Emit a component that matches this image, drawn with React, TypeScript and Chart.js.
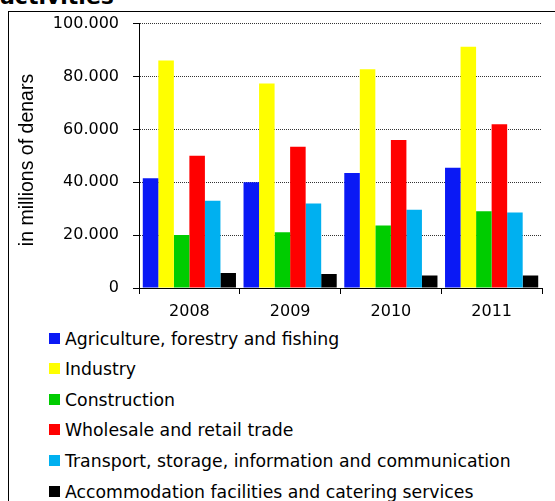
import React, { useEffect, useRef } from "react";
import { Chart, registerables } from "chart.js";

Chart.register(...registerables);

const years = ["2008", "2009", "2010", "2011"];
const seriesNames = [
  "Agriculture, forestry and fishing",
  "Industry",
  "Construction",
  "Wholesale and retail trade",
  "Transport, storage, information and communication",
  "Accommodation facilities and catering services",
];
const agriculture = [41500, 40000, 43500, 45500];
const industry = [86000, 77300, 82700, 91200];
const construction = [20000, 21100, 23600, 29000];
const trade = [50000, 53400, 56000, 61900];
const transport = [33000, 32000, 29600, 28600];
const accommodation = [5700, 5300, 4700, 4700];
const seriesColors = ["#0a19f5", "#ffff00", "#00cc00", "#ff0000", "#00b0f0", "#000000"];
const yTicks = [0, 20000, 40000, 60000, 80000, 100000];
const yTitle = "in millions of denars";
const titleTail = "activities";

const allSeries = [agriculture, industry, construction, trade, transport, accommodation];

const fmt = (v: number) => (v === 0 ? "0" : (v / 1000).toFixed(3));

const yTitlePlugin = {
  id: "yTitlePlugin",
  afterDraw(chart: any) {
    const ctx = chart.ctx;
    ctx.save();
    ctx.translate(27.5, 160);
    ctx.rotate(-Math.PI / 2);
    ctx.font = "19.5px 'Liberation Sans'";
    ctx.fillStyle = "#000";
    ctx.textAlign = "center";
    ctx.textBaseline = "middle";
    ctx.fillText(yTitle, 0, 0);
    ctx.restore();
  },
};

export default function App() {
  const ref = useRef<HTMLCanvasElement>(null);
  useEffect(() => {
    if (!ref.current) return;
    const chart = new Chart(ref.current, {
      type: "bar",
      data: {
        labels: years,
        datasets: allSeries.map((d, i) => ({
          label: seriesNames[i],
          data: d,
          backgroundColor: seriesColors[i],
          borderWidth: 0,
          categoryPercentage: 0.925,
          barPercentage: 1,
        })),
      },
      options: {
        responsive: false,
        animation: false,
        devicePixelRatio: 1,
        layout: { padding: { top: 22, right: 13, bottom: 0, left: 0 } },
        plugins: { legend: { display: false }, tooltip: { enabled: false }, title: { display: false } },
        scales: {
          x: {
            offset: true,
            grid: {
              display: true,
              offset: true,
              drawOnChartArea: false,
              tickLength: 6,
              color: "#000",
              tickColor: "#000",
            },
            border: { display: true, color: "#000", width: 1 },
            ticks: {
              color: "#000",
              padding: 8,
              font: { family: "'DejaVu Sans'", size: 16 },
            },
            afterFit: (s: any) => {
              s.height = 40;
            },
          },
          y: {
            min: 0,
            max: 100000,
            afterBuildTicks: (s: any) => {
              s.ticks = yTicks.map((v) => ({ value: v }));
            },
            grid: {
              color: (c: any) => (c.tick && c.tick.value === 0 ? "rgba(0,0,0,0)" : "#333"),
              tickColor: "#000",
              tickLength: 6,
              tickBorderDash: [],
            },
            border: { display: true, color: "#000", width: 1, dash: [1, 1] },
            ticks: {
              color: "#000",
              padding: 14,
              font: { family: "'DejaVu Sans'", size: 16 },
              callback: (v: any) => fmt(Number(v)),
            },
            afterFit: (s: any) => {
              s.width = 139;
            },
          },
        },
      },
      plugins: [yTitlePlugin],
    });
    return () => chart.destroy();
  }, []);

  return (
    <div
      style={{
        position: "absolute",
        left: 0,
        top: 0,
        width: 555,
        height: 501,
        overflow: "hidden",
        background: "#fff",
      }}
    >
      <div
        style={{
          position: "absolute",
          left: 0,
          top: -14,
          font: "bold 22px 'DejaVu Sans'",
          lineHeight: "22px",
          color: "#000",
          whiteSpace: "nowrap",
        }}
      >
        {titleTail}
      </div>
      <div
        style={{
          position: "absolute",
          left: 8,
          top: 11,
          width: 1000,
          height: 1000,
          borderLeft: "1px solid #000",
          borderTop: "1px solid #000",
        }}
      />
      <canvas
        ref={ref}
        width={555}
        height={328}
        style={{ position: "absolute", left: 0, top: 0, width: 555, height: 328 }}
      />
      {seriesNames.map((name, i) => (
        <React.Fragment key={name}>
          <div
            style={{
              position: "absolute",
              left: 49,
              top: 332.5 + i * 30.6,
              width: 11,
              height: 11,
              background: seriesColors[i],
            }}
          />
          <div
            style={{
              position: "absolute",
              left: 65,
              top: 328.5 + i * 30.6,
              font: "17.3px 'DejaVu Sans'",
              lineHeight: "20px",
              color: "#000",
              whiteSpace: "nowrap",
            }}
          >
            {name}
          </div>
        </React.Fragment>
      ))}
    </div>
  );
}
